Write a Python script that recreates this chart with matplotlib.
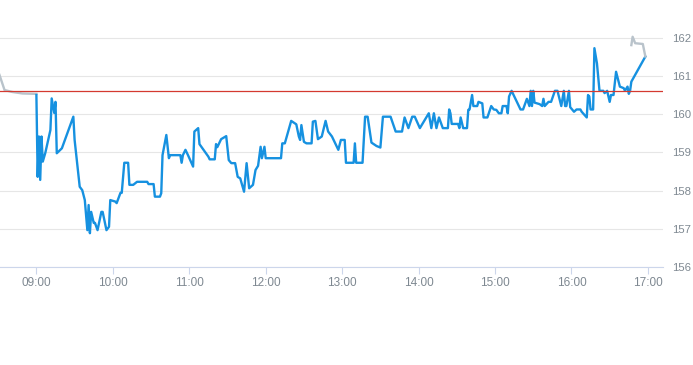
"""
Intraday price chart (single session) with previous-close reference line
"""
import pandas as pd
import matplotlib
matplotlib.use("Agg")
import matplotlib.pyplot as plt
import matplotlib.dates as mdates

DAY = "2024-01-02 "

# pre-market (grey)
pre_times = ["08:31", "08:35", "08:41", "08:49", "09:00"]
pre_prices = [161.04, 160.64, 160.59, 160.55, 160.54]

# regular session (blue)
session_times = [
    "09:00", "09:01", "09:02", "09:03", "09:04", "09:05", "09:07", "09:11", "09:12", "09:14",
    "09:15", "09:16", "09:20", "09:29", "09:30", "09:34", "09:36", "09:38", "09:40", "09:41",
    "09:42", "09:43", "09:45", "09:46", "09:48", "09:51", "09:52", "09:55", "09:57", "09:58",
    "10:02", "10:03", "10:06", "10:07", "10:09", "10:12", "10:13", "10:16", "10:19", "10:27",
    "10:28", "10:32", "10:33", "10:37", "10:38", "10:39", "10:42", "10:44", "10:45", "10:53",
    "10:54", "10:55", "10:57", "10:59", "11:03", "11:04", "11:07", "11:08", "11:15", "11:16",
    "11:20", "11:21", "11:22", "11:25", "11:29", "11:31", "11:33", "11:36", "11:38", "11:40",
    "11:43", "11:45", "11:47", "11:50", "11:52", "11:54", "11:56", "11:57", "11:59", "12:00",
    "12:12", "12:13", "12:15", "12:20", "12:24", "12:26", "12:27", "12:28", "12:30", "12:32",
    "12:36", "12:37", "12:39", "12:41", "12:44", "12:47", "12:49", "12:52", "12:54", "12:57",
    "12:59", "13:02", "13:03", "13:09", "13:10", "13:11", "13:16", "13:18", "13:20", "13:23",
    "13:27", "13:30", "13:32", "13:38", "13:42", "13:47", "13:49", "13:52", "13:55", "13:57",
    "14:01", "14:08", "14:10", "14:12", "14:14", "14:16", "14:19", "14:23", "14:24", "14:25",
    "14:26", "14:31", "14:32", "14:33", "14:35", "14:38", "14:39", "14:40", "14:42", "14:43",
    "14:46", "14:47", "14:50", "14:51", "14:54", "14:57", "14:59", "15:01", "15:03", "15:05",
    "15:06", "15:09", "15:10", "15:11", "15:13", "15:16", "15:20", "15:22", "15:25", "15:27",
    "15:28", "15:29", "15:30", "15:31", "15:33", "15:35", "15:37", "15:38", "15:39", "15:42",
    "15:44", "15:47", "15:49", "15:52", "15:54", "15:55", "15:56", "15:58", "15:59", "16:02",
    "16:04", "16:07", "16:08", "16:12", "16:13", "16:14", "16:15", "16:17", "16:18", "16:20",
    "16:22", "16:25", "16:26", "16:28", "16:30", "16:31", "16:33", "16:35", "16:38", "16:41",
    "16:42", "16:44", "16:45", "16:46", "16:47", "16:58",
]
session_prices = [
    160.51, 158.36, 159.42, 158.28, 159.42, 158.76, 158.99, 159.59, 160.42, 160.04,
    160.33, 158.98, 159.11, 159.94, 159.33, 158.10, 158.01, 157.75, 156.96, 157.62,
    156.88, 157.44, 157.15, 157.15, 156.96, 157.44, 157.44, 156.96, 157.05, 157.75,
    157.71, 157.67, 157.94, 157.94, 158.73, 158.73, 158.15, 158.15, 158.23, 158.23,
    158.17, 158.17, 157.84, 157.84, 157.93, 158.93, 159.46, 158.85, 158.93, 158.93,
    158.73, 158.93, 159.07, 158.93, 158.63, 159.55, 159.64, 159.22, 158.89, 158.82,
    158.82, 159.22, 159.14, 159.35, 159.43, 158.80, 158.72, 158.72, 158.36, 158.32,
    157.97, 158.72, 158.06, 158.15, 158.54, 158.65, 159.15, 158.85, 159.15, 158.85,
    158.85, 159.24, 159.24, 159.83, 159.74, 159.42, 159.33, 159.72, 159.28, 159.24,
    159.24, 159.81, 159.83, 159.35, 159.42, 159.83, 159.55, 159.42, 159.28, 159.07,
    159.33, 159.33, 158.73, 158.73, 159.24, 158.73, 158.73, 159.94, 159.94, 159.26,
    159.17, 159.13, 159.94, 159.94, 159.55, 159.55, 159.92, 159.64, 159.94, 159.94,
    159.64, 160.03, 159.64, 160.03, 159.64, 159.92, 159.64, 159.64, 160.13, 160.03,
    159.75, 159.75, 159.64, 159.92, 159.64, 159.64, 160.12, 160.13, 160.51, 160.22,
    160.22, 160.33, 160.29, 159.92, 159.92, 160.22, 160.13, 160.12, 160.03, 160.03,
    160.22, 160.22, 160.03, 160.47, 160.62, 160.41, 160.13, 160.13, 160.41, 160.22,
    160.62, 160.22, 160.62, 160.31, 160.29, 160.27, 160.22, 160.41, 160.22, 160.33,
    160.33, 160.62, 160.62, 160.22, 160.62, 160.22, 160.22, 160.62, 160.19, 160.07,
    160.13, 160.13, 160.07, 159.92, 160.51, 160.47, 160.13, 160.13, 161.74, 161.34,
    160.62, 160.62, 160.56, 160.62, 160.33, 160.51, 160.51, 161.12, 160.73, 160.69,
    160.62, 160.73, 160.54, 160.62, 160.86, 161.52,
]

# after-hours (grey)
post_times = ["16:47", "16:48", "16:50", "16:56", "16:58"]
post_prices = [161.82, 162.04, 161.87, 161.85, 161.52]

prev_close = 160.62

y_ticks = [156, 157, 158, 159, 160, 161, 162]
x_ticks = ["09:00", "10:00", "11:00", "12:00", "13:00", "14:00", "15:00", "16:00", "17:00"]


def to_dt(times):
    return pd.to_datetime([DAY + t for t in times])


BLUE = "#1691e0"
GREY_LINE = "#b9c3cb"
GRID = "#e6e6e6"
AXIS = "#ccd6eb"
LABEL = "#7e8891"

fig = plt.figure(figsize=(6.93, 3.65), dpi=100)
ax = fig.add_axes([0.0, 0.2693, 0.957, 0.678])

ax.plot(to_dt(pre_times), pre_prices, color=GREY_LINE, lw=1.7, solid_joinstyle="round")
ax.plot(to_dt(session_times), session_prices, color=BLUE, lw=1.7, solid_joinstyle="round")
ax.plot(to_dt(post_times), post_prices, color=GREY_LINE, lw=1.7, solid_joinstyle="round")
ax.axhline(prev_close, color="#d43a30", lw=0.9, zorder=3)

ax.set_xlim(pd.Timestamp(DAY + "08:31:26"), pd.Timestamp(DAY + "17:12:00"))
ax.set_ylim(156, 162.5)

ax.set_yticks(y_ticks)
ax.set_yticklabels([str(v) for v in y_ticks])
ax.yaxis.tick_right()
ax.tick_params(axis="y", length=0, pad=6.5, labelsize=8.2, labelcolor=LABEL)
ax.grid(axis="y", color=GRID, lw=0.8)
ax.set_axisbelow(True)

ax.set_xticks(to_dt(x_ticks))
ax.xaxis.set_major_formatter(mdates.DateFormatter("%H:%M"))
ax.tick_params(axis="x", length=5, width=0.8, color=AXIS, pad=2.5,
               labelsize=8.5, labelcolor=LABEL)

for side in ["top", "left", "right"]:
    ax.spines[side].set_visible(False)
ax.spines["bottom"].set_color(AXIS)
ax.spines["bottom"].set_linewidth(0.8)

for lbl in ax.get_xticklabels() + ax.get_yticklabels():
    lbl.set_family(["Liberation Sans", "DejaVu Sans"])

fig.savefig("out.png", dpi=100)
